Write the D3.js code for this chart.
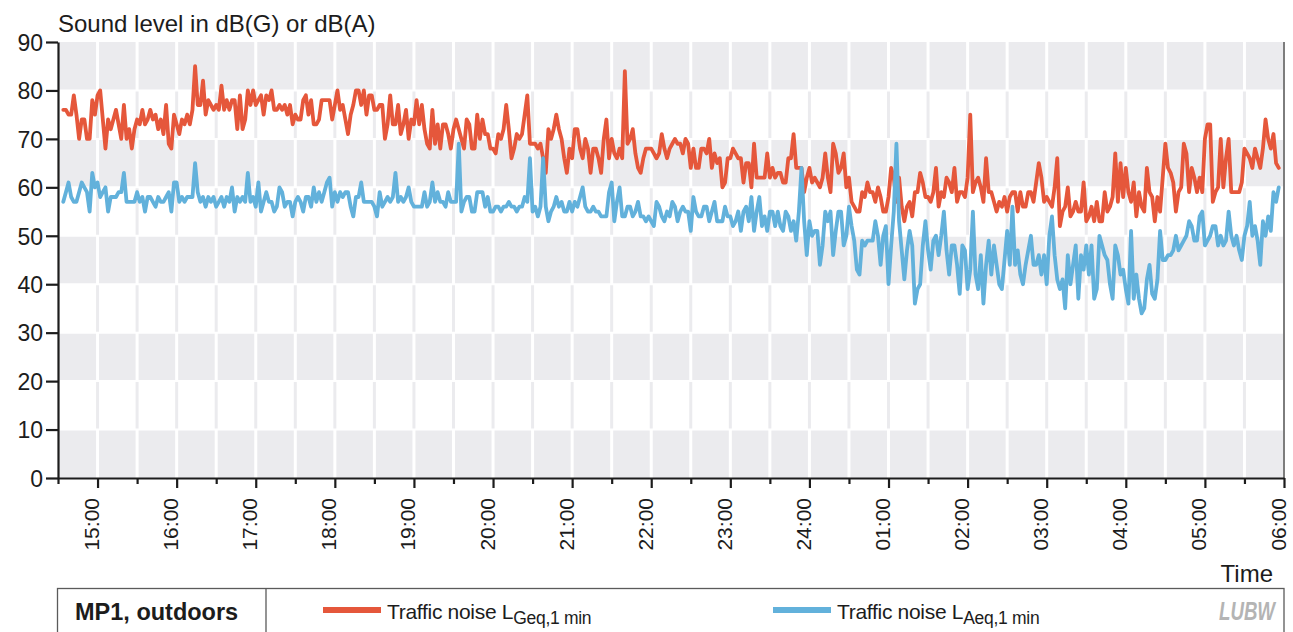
<!DOCTYPE html>
<html>
<head>
<meta charset="utf-8">
<title>MP1 outdoors – traffic noise</title>
<script src="https://cdn.jsdelivr.net/npm/d3@7"></script>
<style>
  html, body { margin: 0; padding: 0; background: #fff; }
  svg { display: block; font-family: "Liberation Sans", Arial, Helvetica, sans-serif; }
</style>
</head>
<body>
<svg id="chart" width="1293" height="632"></svg>
<script>
// ---- data -------------------------------------------------------------
// One value every two minutes, first sample at 14:34, last at 05:56.
const firstSample = "14:34";
const stepMinutes = 2;

// Traffic noise L_Geq,1min in dB(G)
const lGeq = [
  76,76,75,75,79,75,70,74,74,70, 70,78,75,79,80,74,68,74,72,74,
  76,73,70,77,70,72,68,72,74,73, 76,73,74,76,74,75,72,74,71,77,
  69,68,75,73,71,74,73,75,73,76, 85,77,77,82,75,78,77,76,77,76,
  81,76,78,76,78,78,72,79,72,74, 80,77,80,77,78,79,
  75,79,78,80,76,76,77,76,77,75, 77,73,75,74,74,78,79,75,78,73,
  73,74,78,78,78,78,74,77,80,76, 77,74,71,75,77,80,80,77,80,75,
  79,79,76,76,77,77,70,73,79,73, 73,77,71,73,76,70,74,73,78,73,
  77,72,69,68,76,69,73,68,73,73, 71,68,72,74,72,70,68,74,
  73,68,68,75,70,74,71,71,68,68, 67,71,70,72,77,72,66,68,71,70,
  71,75,79,69,69,69,68,69,66,63, 72,70,72,75,72,70,66,63,68,66,
  72,72,68,66,70,68,63,68,68,66, 63,70,74,66,70,67,66,68,66,84,
  69,70,72,67,64,63,66,68,68,68, 67,66,67,71,68,66,68,69,
  70,69,69,67,70,69,64,68,64,64, 68,68,67,70,64,67,65,66,60,61,
  66,66,68,67,66,66,61,65,65,60, 69,62,62,62,62,67,62,64,62,63,
  63,61,61,66,66,71,64,64,64,59, 62,64,61,62,61,60,62,67,62,59,
  69,67,63,64,67,60,62,57,56,55, 55,59,58,61,59,59,57,
  60,58,55,55,58,64,62,57,62,56, 53,56,57,54,59,59,63,61,58,58,
  57,59,64,56,59,58,62,61,59,64, 57,59,59,58,62,75,59,61,62,60,
  57,66,59,59,57,55,57,56,58,55, 58,59,59,55,59,56,56,59,59,57,
  61,65,62,57,58,57,56,60,66,52, 55,56,60,54,55,57,55,55,
  61,53,54,56,53,57,53,53,59,55, 56,58,67,57,65,58,64,59,57,61,
  54,59,56,55,64,59,58,53,58,55, 62,69,64,63,61,55,59,60,69,67,
  59,64,62,59,62,59,70,73,73,57, 59,60,70,60,66,70,59,59,59,59,
  61,68,67,66,64,68,66,64,68,74, 70,68,71,65,64
];

// Traffic noise L_Aeq,1min in dB(A)
const lAeq = [
  57,59,61,58,57,57,59,61,60,59, 55,63,60,61,58,59,60,55,58,58,
  58,59,59,63,57,57,57,57,59,57, 58,55,58,58,57,56,58,57,57,58,
  59,55,61,61,57,58,57,58,58,58, 65,59,57,58,56,58,57,58,56,57,
  58,56,58,57,60,55,58,57,58,57, 63,57,58,56,61,55,
  57,59,57,57,55,56,60,59,56,57, 57,54,57,58,57,55,58,58,56,60,
  57,59,57,59,61,62,56,59,57,59, 58,59,59,56,54,58,58,61,57,57,
  57,57,56,54,59,56,57,58,57,58, 63,57,58,57,58,60,57,56,56,56,
  56,59,56,57,61,57,59,57,57,56, 59,57,57,57,69,55,57,58,
  58,55,55,59,59,59,56,58,55,55, 56,56,55,56,56,57,56,56,55,56,
  56,58,57,66,55,56,54,56,66,56, 53,55,56,58,56,57,55,55,57,55,
  57,56,58,60,56,55,55,56,55,55, 54,54,54,59,61,53,57,60,54,54,
  56,56,54,55,57,54,54,53,54,53, 52,57,56,54,53,55,54,57,
  56,53,55,56,55,55,51,58,55,54, 54,56,56,53,55,57,53,53,53,56,
  54,54,52,53,55,51,55,56,53,58, 51,55,58,52,54,51,55,55,52,55,
  52,51,55,54,51,53,49,55,64,53, 46,53,50,51,51,44,48,55,53,55,
  46,51,55,55,48,50,56,52,49,43, 42,49,48,49,49,49,53,
  50,44,50,52,40,48,55,69,53,47, 41,47,51,48,36,39,40,48,53,47,
  43,49,50,46,50,55,47,42,48,48, 44,38,48,47,39,43,55,42,39,46,
  36,44,49,42,48,44,40,39,45,51, 44,56,44,47,42,40,44,47,50,44,
  44,46,42,46,40,50,54,46,41,39, 41,35,46,40,44,48,37,46,
  43,48,42,48,37,39,50,48,46,45, 40,37,48,46,42,43,39,36,51,37,
  42,37,34,35,41,44,38,37,41,51, 45,45,46,46,47,50,47,48,49,50,
  53,52,49,49,54,55,48,49,50,52, 52,48,50,48,49,55,50,48,50,47,
  45,50,52,57,50,52,49,44,53,50, 54,51,59,57,60
];

const yTicks = [0, 10, 20, 30, 40, 50, 60, 70, 80, 90];
const xTickLabels = ["15:00","16:00","17:00","18:00","19:00","20:00","21:00","22:00",
                     "23:00","24:00","01:00","02:00","03:00","04:00","05:00","06:00"];
const axisStart = "14:30";
const axisEnd = "06:00";

const seriesNames = ["Traffic noise L", "Traffic noise L"];
const seriesSubs = ["Geq,1 min", "Aeq,1 min"];
const stationLabel = "MP1, outdoors";

// ---- helpers ----------------------------------------------------------
// minutes since midnight of the first day; times before noon belong to the next day
function toMinutes(hhmm) {
  const [h, m] = hhmm.split(":").map(Number);
  const hh = (h < 12 ? h + 24 : h);
  return hh * 60 + m;
}
const t0 = toMinutes(firstSample);
const tickMinutes = xTickLabels.map(l => {
  const h = +l.slice(0, 2);
  return (h < 12 ? h + 24 : h) * 60;
});

// ---- layout -----------------------------------------------------------
const plotLeft = 58, plotRight = 1284, plotTop = 42, plotBottom = 478;
const RED = "#e5573b", BLUE = "#62b1db", BAND = "#ebebee", INK = "#1c1c1c";

const svg = d3.select("#chart");

const x = d3.scaleLinear().domain([toMinutes(axisStart), toMinutes(axisEnd)]).range([plotLeft, plotRight]);
const y = d3.scaleLinear().domain([0, 90]).range([plotBottom, plotTop]);

// ---- background bands + grid -----------------------------------------
const bands = d3.range(0, 90, 10).map(v => ({ v, gray: (v / 10) % 2 === 0 }));
const halfHours = d3.range(toMinutes("15:00"), toMinutes("06:00"), 30);

const bg = svg.append("g");
bg.selectAll("rect.band").data(bands).join("rect")
  .attr("x", plotLeft).attr("width", plotRight - plotLeft)
  .attr("y", d => y(d.v + 10)).attr("height", d => y(d.v) - y(d.v + 10))
  .attr("fill", d => d.gray ? BAND : "#fff");

bands.forEach(b => {
  bg.append("g").selectAll("line").data(halfHours).join("line")
    .attr("x1", d => x(d)).attr("x2", d => x(d))
    .attr("y1", y(b.v + 10)).attr("y2", y(b.v))
    .attr("stroke", b.gray ? "#fff" : BAND)
    .attr("stroke-width", 3);
});
bg.append("g").selectAll("line").data(yTicks.slice(1, -1)).join("line")
  .attr("x1", plotLeft).attr("x2", plotRight)
  .attr("y1", d => y(d)).attr("y2", d => y(d))
  .attr("stroke", "#fff").attr("stroke-width", 2);

// right frame
svg.append("line")
  .attr("x1", plotRight).attr("x2", plotRight).attr("y1", plotTop).attr("y2", plotBottom)
  .attr("stroke", "#7d7d7d").attr("stroke-width", 2);

// ---- series -----------------------------------------------------------
svg.append("clipPath").attr("id", "plot-clip").append("rect")
  .attr("x", plotLeft).attr("y", plotTop - 5)
  .attr("width", plotRight - plotLeft).attr("height", plotBottom - plotTop + 5);

const line = d3.line()
  .x((d, i) => x(t0 + i * stepMinutes))
  .y(d => y(d));

const plot = svg.append("g").attr("clip-path", "url(#plot-clip)");
[[lGeq, RED], [lAeq, BLUE]].forEach(([vals, col]) => {
  plot.append("path")
    .datum(vals)
    .attr("d", line)
    .attr("fill", "none")
    .attr("stroke", col)
    .attr("stroke-width", 3.8)
    .attr("stroke-linejoin", "round")
    .attr("stroke-linecap", "round");
});

// ---- axes -------------------------------------------------------------
const yAxis = svg.append("g")
  .attr("transform", `translate(${plotLeft},0)`)
  .call(d3.axisLeft(y).tickValues(yTicks).tickSize(12).tickPadding(3).tickSizeOuter(0));
yAxis.select(".domain").attr("stroke", INK).attr("stroke-width", 2.2);
yAxis.selectAll(".tick line").attr("stroke", INK).attr("stroke-width", 2.2);
yAxis.selectAll(".tick text").attr("fill", INK).style("font-size", "23px").attr("dy", "0.36em");

// minor half-hour ticks
const minor = svg.append("g")
  .attr("transform", `translate(0,${plotBottom})`)
  .call(d3.axisBottom(x)
    .tickValues(d3.range(toMinutes(axisStart), toMinutes(axisEnd), 60))
    .tickSize(6).tickFormat("").tickSizeOuter(0));
minor.select(".domain").remove();
minor.selectAll(".tick line").attr("stroke", INK).attr("stroke-width", 2.2);

const xAxis = svg.append("g")
  .attr("transform", `translate(0,${plotBottom})`)
  .call(d3.axisBottom(x).tickValues(tickMinutes)
    .tickFormat((d, i) => xTickLabels[i]).tickSize(10).tickSizeOuter(0));
xAxis.select(".domain").attr("stroke", INK).attr("stroke-width", 2.2);
xAxis.selectAll(".tick line").attr("stroke", INK).attr("stroke-width", 2.2);
xAxis.selectAll(".tick text")
  .attr("fill", INK)
  .style("font-size", "21px")
  .style("text-anchor", "end")
  .attr("transform", "rotate(-90)")
  .attr("x", -20).attr("y", 1).attr("dy", 0);

// titles
svg.append("text")
  .attr("x", plotLeft).attr("y", 32)
  .attr("fill", INK).style("font-size", "24px")
  .text("Sound level in dB(G) or dB(A)");

svg.append("text")
  .attr("x", 1273).attr("y", 582)
  .attr("text-anchor", "end")
  .attr("fill", INK).style("font-size", "24px")
  .text("Time");

// ---- legend box -------------------------------------------------------
const lg = svg.append("g");
lg.append("rect")
  .attr("x", 57.5).attr("y", 588.5).attr("width", plotRight - 57.5).attr("height", 70)
  .attr("fill", "#fff").attr("stroke", "#5a5a5a").attr("stroke-width", 1.3);
lg.append("line")
  .attr("x1", 266).attr("x2", 266).attr("y1", 588.5).attr("y2", 640)
  .attr("stroke", "#5a5a5a").attr("stroke-width", 1.3);
lg.append("text")
  .attr("x", 75).attr("y", 620)
  .attr("fill", INK).style("font-size", "23.5px").style("font-weight", "bold")
  .text(stationLabel);

const legendItems = [
  { x: 323, color: RED, name: seriesNames[0], sub: seriesSubs[0] },
  { x: 773, color: BLUE, name: seriesNames[1], sub: seriesSubs[1] }
];
legendItems.forEach(it => {
  lg.append("line")
    .attr("x1", it.x).attr("x2", it.x + 58)
    .attr("y1", 610).attr("y2", 610)
    .attr("stroke", it.color).attr("stroke-width", 6);
  const t = lg.append("text")
    .attr("x", it.x + 64).attr("y", 619)
    .attr("fill", INK).style("font-size", "21px")
    .style("letter-spacing", "-0.3px");
  t.append("tspan").text(it.name);
  t.append("tspan").attr("dy", 5).style("font-size", "17.5px").text(it.sub);
});

// logo
lg.append("text")
  .attr("x", 1219).attr("y", 620)
  .attr("fill", "#b4b4b4")
  .style("font-size", "25px").style("font-weight", "bold").style("font-style", "italic")
  .attr("textLength", 56).attr("lengthAdjust", "spacingAndGlyphs")
  .text("LUBW");
</script>
</body>
</html>
